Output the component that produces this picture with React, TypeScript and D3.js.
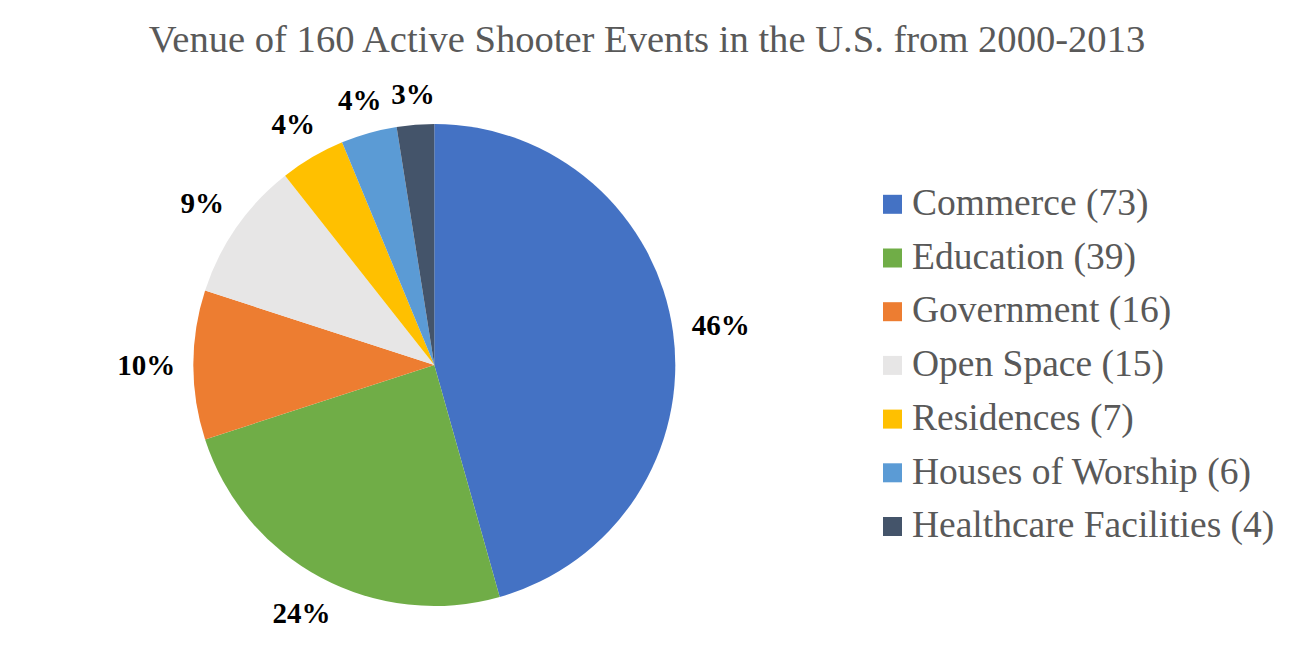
import React from 'react';
import * as d3 from 'd3';

// venue categories and counts (160 events total)
const venues = ['Commerce', 'Education', 'Government', 'Open Space', 'Residences', 'Houses of Worship', 'Healthcare Facilities'];
const counts = [73, 39, 16, 15, 7, 6, 4];
const percentLabels = ['46%', '24%', '10%', '9%', '4%', '4%', '3%'];
const sliceColors = ['#4472C4', '#70AD47', '#ED7D31', '#E7E6E6', '#FFC000', '#5B9BD5', '#44546A'];

const title = 'Venue of 160 Active Shooter Events in the U.S. from 2000-2013';

const W = 1294;
const H = 667;
const FONT = '"Liberation Serif", "Times New Roman", serif';

export default function App() {
  const cx = 434.3;
  const cy = 365;
  const radius = 241;

  const rows = venues.map((v, i) => ({ venue: v, count: counts[i], label: percentLabels[i], color: sliceColors[i] }));

  const pie = d3.pie<typeof rows[0]>()
    .value(d => d.count)
    .sort(null);

  const arc = d3.arc<d3.PieArcDatum<typeof rows[0]>>()
    .innerRadius(0)
    .outerRadius(radius);

  const arcs = pie(rows);

  // data labels sit outside the pie, pushed out by half their box
  const labelFont = 29;
  const labelGap = 19;
  const labelPos = (d: d3.PieArcDatum<typeof rows[0]>) => {
    const a = (d.startAngle + d.endAngle) / 2;
    const s = Math.sin(a);
    const c = Math.cos(a);
    const chars = d.data.label.length - 1;
    const halfW = (labelFont * (0.5 * chars + 1.0) * 0.97) / 2;
    const halfH = 9.5;
    const ext = Math.abs(s) * halfW + Math.abs(c) * halfH;
    const rr = radius + labelGap + ext;
    return { x: cx + rr * s, y: cy - rr * c };
  };

  // legend
  const legendX = 883;
  const legendY = d3.scaleLinear().domain([0, venues.length - 1]).range([204.3, 526.5]);
  const sq = 19;

  return (
    <svg width={W} height={H} style={{ position: 'absolute', left: 0, top: 0, background: '#fff' }}>
      <text x={647} y={52} textAnchor="middle" fontFamily={FONT} fontSize={38.6} fill="#595959">
        {title}
      </text>

      <g transform={`translate(${cx},${cy})`}>
        {arcs.map((d, i) => (
          <path key={i} d={arc(d) || ''} fill={d.data.color} />
        ))}
      </g>

      {arcs.map((d, i) => {
        const p = labelPos(d);
        return (
          <text
            key={i}
            x={p.x}
            y={p.y + 9.5}
            textAnchor="middle"
            fontFamily={FONT}
            fontWeight="bold"
            fontSize={labelFont}
            fill="#000"
          >
            {d.data.label}
          </text>
        );
      })}

      {rows.map((r, i) => (
        <g key={r.venue} transform={`translate(${legendX},${legendY(i)})`}>
          <rect x={0} y={-sq / 2} width={sq} height={sq} fill={r.color} />
          <text x={29} y={10.7} fontFamily={FONT} fontSize={37.5} fill="#595959">
            {`${r.venue} (${r.count})`}
          </text>
        </g>
      ))}
    </svg>
  );
}
